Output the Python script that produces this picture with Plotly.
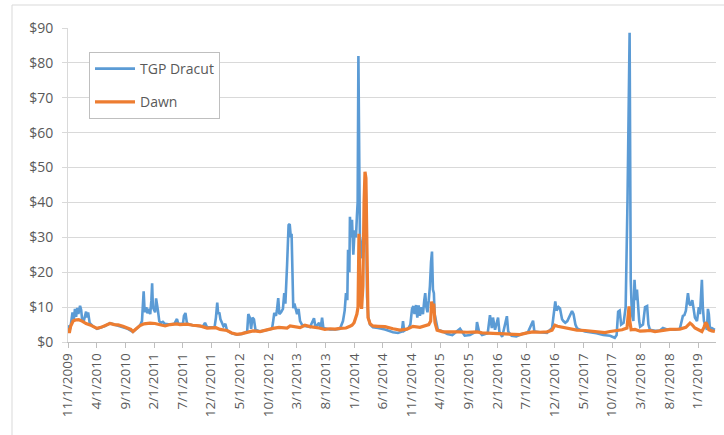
import pandas as pd
import plotly.graph_objects as go

# ---------------- data ----------------
dracut_dates = [
    "2009-11-01", "2009-11-08", "2009-11-15", "2009-11-25", "2009-12-02", "2009-12-08", "2009-12-14",
    "2009-12-20", "2009-12-26", "2010-01-04", "2010-01-10", "2010-01-15", "2010-01-24", "2010-02-01",
    "2010-02-05", "2010-02-10", "2010-02-16", "2010-02-24", "2010-03-14", "2010-04-04", "2010-04-25",
    "2010-05-17", "2010-06-12", "2010-07-05", "2010-07-25", "2010-08-20", "2010-09-10", "2010-10-12",
    "2010-10-25", "2010-11-19", "2010-11-29", "2010-12-03", "2010-12-08", "2010-12-12", "2010-12-16",
    "2010-12-22", "2010-12-28", "2011-01-05", "2011-01-12", "2011-01-18", "2011-01-22", "2011-01-26",
    "2011-02-01", "2011-02-07", "2011-02-12", "2011-02-17", "2011-02-22", "2011-03-01", "2011-03-10",
    "2011-03-20", "2011-03-31", "2011-04-27", "2011-05-20", "2011-06-03", "2011-06-10", "2011-07-05",
    "2011-07-10", "2011-07-18", "2011-07-26", "2011-08-25", "2011-10-03", "2011-10-20", "2011-10-30",
    "2011-11-10", "2011-12-20", "2011-12-27", "2012-01-03", "2012-01-08", "2012-01-14", "2012-01-20",
    "2012-01-28", "2012-02-05", "2012-02-15", "2012-02-24", "2012-03-20", "2012-04-17", "2012-05-13",
    "2012-06-10", "2012-06-16", "2012-06-24", "2012-07-01", "2012-07-08", "2012-07-16", "2012-07-24",
    "2012-08-17", "2012-09-23", "2012-10-20", "2012-10-25", "2012-11-01", "2012-11-10", "2012-11-15",
    "2012-11-22", "2012-11-28", "2012-12-07", "2012-12-17", "2012-12-24", "2012-12-30", "2013-01-08",
    "2013-01-16", "2013-01-22", "2013-01-28", "2013-02-01", "2013-02-06", "2013-02-10", "2013-02-16",
    "2013-02-22", "2013-03-02", "2013-03-10", "2013-03-18", "2013-03-28", "2013-04-13", "2013-05-10",
    "2013-05-31", "2013-06-08", "2013-06-27", "2013-07-05", "2013-07-13", "2013-07-20", "2013-08-24",
    "2013-09-20", "2013-10-16", "2013-11-01", "2013-11-10", "2013-11-17", "2013-11-24", "2013-11-28",
    "2013-12-05", "2013-12-08", "2013-12-14", "2013-12-19", "2013-12-26", "2014-01-02", "2014-01-09",
    "2014-01-14", "2014-01-18", "2014-01-22", "2014-01-26", "2014-01-30", "2014-02-04", "2014-02-10",
    "2014-02-16", "2014-02-22", "2014-02-28", "2014-03-04", "2014-03-09", "2014-03-16", "2014-03-25",
    "2014-04-09", "2014-05-06", "2014-06-12", "2014-07-25", "2014-08-20", "2014-09-10", "2014-09-16",
    "2014-09-22", "2014-10-15", "2014-10-25", "2014-11-03", "2014-11-10", "2014-11-16", "2014-11-24",
    "2014-12-01", "2014-12-08", "2014-12-15", "2014-12-22", "2014-12-31", "2015-01-07", "2015-01-12",
    "2015-01-18", "2015-01-24", "2015-01-31", "2015-02-06", "2015-02-12", "2015-02-17", "2015-02-22",
    "2015-02-27", "2015-03-03", "2015-03-10", "2015-03-20", "2015-04-16", "2015-05-10", "2015-06-05",
    "2015-07-05", "2015-07-16", "2015-08-10", "2015-09-07", "2015-10-10", "2015-10-14", "2015-10-25",
    "2015-11-10", "2015-12-10", "2015-12-22", "2016-01-01", "2016-01-07", "2016-01-18", "2016-02-03",
    "2016-02-10", "2016-02-25", "2016-03-21", "2016-03-28", "2016-04-15", "2016-05-10", "2016-06-05",
    "2016-07-10", "2016-08-07", "2016-08-14", "2016-09-13", "2016-10-20", "2016-11-16", "2016-11-28",
    "2016-12-03", "2016-12-10", "2016-12-20", "2016-12-28", "2017-01-08", "2017-01-15", "2017-01-25",
    "2017-02-05", "2017-03-02", "2017-03-10", "2017-03-20", "2017-03-28", "2017-04-13", "2017-05-10",
    "2017-06-06", "2017-07-10", "2017-08-15", "2017-09-20", "2017-10-15", "2017-10-25", "2017-11-02",
    "2017-11-10", "2017-11-18", "2017-12-01", "2017-12-12", "2017-12-22", "2018-01-02", "2018-01-08",
    "2018-01-14", "2018-01-22", "2018-01-28", "2018-02-03", "2018-02-10", "2018-02-15", "2018-02-22",
    "2018-02-27", "2018-03-14", "2018-03-25", "2018-04-05", "2018-04-12", "2018-04-20", "2018-05-17",
    "2018-06-12", "2018-06-28", "2018-07-20", "2018-08-31", "2018-09-26", "2018-10-12", "2018-10-20",
    "2018-10-28", "2018-11-08", "2018-11-15", "2018-11-22", "2018-12-01", "2018-12-15", "2018-12-26",
    "2019-01-05", "2019-01-11", "2019-01-18", "2019-01-21", "2019-01-26", "2019-02-01", "2019-02-08",
    "2019-02-17", "2019-02-22", "2019-02-27", "2019-03-05", "2019-03-15", "2019-03-31",
]
dracut_prices = [
    4.8, 3.0, 4.6, 8.5, 6.5, 9.5, 7.2,
    9.8, 8.0, 10.4, 9.2, 6.5, 6.0, 7.5,
    8.7, 7.0, 8.5, 5.5, 4.5, 3.8, 4.1,
    4.6, 5.4, 5.0, 4.8, 4.4, 3.9, 2.9,
    3.5, 4.8, 6.0, 9.0, 14.5, 10.0, 8.5,
    10.0, 8.2, 9.5, 8.0, 12.0, 16.8, 10.0,
    9.0, 8.5, 12.5, 10.0, 9.0, 6.0, 5.5,
    5.8, 5.2, 5.0, 5.2, 6.6, 5.2, 5.3,
    7.5, 8.3, 5.3, 4.8, 4.5, 4.6, 5.5,
    4.2, 4.3, 7.0, 11.3, 8.0, 8.5, 6.5,
    5.5, 4.5, 5.2, 3.3, 2.5, 2.1, 2.3,
    3.0, 8.0, 7.0, 3.8, 7.0, 6.5, 3.5,
    3.0, 3.5, 3.8, 5.5, 8.3, 7.5, 9.0,
    12.6, 8.0, 8.5, 9.5, 14.0, 11.0, 22.0,
    33.5, 33.8, 30.0, 31.0, 20.0, 9.7, 11.0,
    10.0, 8.0, 9.5, 6.0, 5.0, 4.6, 4.3,
    6.8, 4.2, 5.5, 3.8, 7.0, 4.0, 3.6,
    3.6, 3.8, 6.0, 9.0, 14.0, 12.0, 26.4,
    20.0, 35.9, 30.0, 35.0, 25.0, 32.0, 30.0,
    36.0, 40.0, 82.0, 45.0, 30.0, 27.0, 24.0,
    30.0, 28.0, 47.4, 40.0, 13.0, 7.0, 5.0,
    4.2, 4.0, 3.6, 2.8, 2.6, 3.0, 6.0,
    3.2, 4.0, 5.0, 9.5, 10.3, 8.0, 10.6,
    7.0, 10.5, 7.5, 10.0, 8.0, 12.0, 14.0,
    10.0, 8.5, 12.0, 16.0, 23.0, 25.9, 15.0,
    14.0, 8.0, 6.0, 3.5, 3.0, 2.3, 2.0,
    3.2, 3.8, 1.8, 2.0, 3.0, 5.7, 3.0,
    2.0, 2.5, 7.7, 4.0, 7.0, 3.5, 7.0,
    3.0, 1.5, 7.4, 3.0, 1.8, 1.6, 2.2,
    2.7, 6.1, 3.0, 2.8, 2.6, 4.0, 10.0,
    11.6, 9.0, 10.0, 9.6, 6.5, 6.0, 5.5,
    6.0, 8.9, 8.0, 5.0, 4.0, 3.5, 3.0,
    2.8, 2.5, 2.0, 1.8, 1.2, 2.0, 8.7,
    9.0, 5.0, 5.5, 10.0, 41.2, 88.6, 17.8,
    8.0, 6.0, 17.8, 12.0, 15.0, 9.5, 6.0,
    4.4, 5.0, 10.0, 10.3, 5.0, 3.5, 3.2,
    3.3, 4.0, 3.6, 3.5, 3.8, 7.5, 7.7,
    9.0, 14.0, 11.0, 10.5, 12.0, 7.0, 6.0,
    10.0, 8.0, 15.0, 17.8, 10.0, 6.0, 5.0,
    3.5, 9.5, 8.0, 3.5, 4.0, 3.5,
]

dawn_dates = [
    "2009-11-01", "2009-11-08", "2009-11-15", "2009-11-28", "2009-12-10", "2009-12-28", "2010-01-15",
    "2010-02-05", "2010-02-26", "2010-03-20", "2010-04-04", "2010-04-25", "2010-05-17", "2010-06-12",
    "2010-07-05", "2010-07-25", "2010-08-20", "2010-09-10", "2010-10-01", "2010-10-12", "2010-10-25",
    "2010-11-19", "2010-12-10", "2011-01-11", "2011-02-06", "2011-03-05", "2011-04-01", "2011-04-27",
    "2011-06-03", "2011-06-19", "2011-07-26", "2011-08-25", "2011-10-03", "2011-11-10", "2011-12-27",
    "2012-01-18", "2012-02-24", "2012-03-20", "2012-04-17", "2012-05-13", "2012-06-14", "2012-07-11",
    "2012-08-17", "2012-09-23", "2012-10-25", "2012-11-26", "2013-01-08", "2013-01-24", "2013-02-19",
    "2013-03-18", "2013-04-13", "2013-05-10", "2013-06-27", "2013-07-28", "2013-08-24", "2013-09-20",
    "2013-10-16", "2013-11-17", "2013-12-08", "2013-12-19", "2013-12-30", "2014-01-09", "2014-01-14",
    "2014-01-20", "2014-01-25", "2014-01-28", "2014-02-02", "2014-02-08", "2014-02-15", "2014-02-21",
    "2014-02-26", "2014-03-03", "2014-03-07", "2014-03-10", "2014-03-14", "2014-03-25", "2014-04-09",
    "2014-05-06", "2014-06-12", "2014-07-25", "2014-08-31", "2014-10-07", "2014-11-08", "2014-12-15",
    "2015-01-11", "2015-01-31", "2015-02-10", "2015-02-15", "2015-02-20", "2015-02-26", "2015-03-05",
    "2015-03-16", "2015-04-16", "2015-05-24", "2015-07-05", "2015-08-22", "2015-10-14", "2015-11-10",
    "2015-12-22", "2016-02-03", "2016-03-21", "2016-05-03", "2016-05-29", "2016-07-05", "2016-08-07",
    "2016-09-13", "2016-10-20", "2016-11-16", "2016-12-01", "2016-12-15", "2017-01-13", "2017-02-03",
    "2017-03-02", "2017-03-28", "2017-05-10", "2017-06-21", "2017-07-29", "2017-08-24", "2017-09-20",
    "2017-10-27", "2017-11-23", "2017-12-19", "2017-12-27", "2017-12-30", "2018-01-03", "2018-01-10",
    "2018-01-31", "2018-02-27", "2018-03-25", "2018-04-20", "2018-05-17", "2018-06-28", "2018-08-04",
    "2018-09-26", "2018-10-28", "2018-11-19", "2018-11-29", "2018-12-15", "2019-01-05", "2019-01-21",
    "2019-02-01", "2019-02-10", "2019-02-17", "2019-02-27", "2019-03-15", "2019-03-31",
]
dawn_prices = [
    4.0, 2.6, 4.5, 6.0, 6.3, 6.4, 6.0,
    5.3, 4.9, 4.3, 3.9, 4.2, 4.7, 5.3,
    5.0, 4.9, 4.5, 4.0, 3.6, 3.0, 3.6,
    4.7, 5.2, 5.4, 5.3, 4.9, 4.6, 5.0,
    5.2, 5.0, 5.1, 4.8, 4.6, 4.0, 4.1,
    3.6, 3.3, 2.6, 2.2, 2.4, 2.8, 3.2,
    3.0, 3.6, 3.9, 4.2, 4.0, 4.6, 4.3,
    4.1, 4.8, 4.4, 4.0, 3.6, 3.8, 3.7,
    3.9, 4.0, 4.5, 4.8, 5.5, 7.0, 8.0,
    10.0, 31.0, 22.0, 12.0, 9.5, 16.0, 40.0,
    48.8, 47.0, 30.0, 12.0, 7.0, 5.2, 4.6,
    4.5, 4.4, 3.8, 3.4, 3.7, 4.5, 4.2,
    4.7, 5.0, 6.0, 11.6, 9.0, 11.0, 5.5,
    3.4, 2.9, 2.8, 2.9, 2.8, 2.9, 2.6,
    2.5, 2.4, 2.1, 2.0, 2.1, 2.6, 2.9,
    2.8, 2.9, 3.4, 4.8, 4.5, 4.2, 3.8,
    3.6, 3.4, 3.3, 3.0, 2.8, 2.7, 3.0,
    3.2, 3.5, 4.0, 8.0, 10.2, 6.0, 3.5,
    3.6, 3.1, 3.2, 3.3, 3.0, 3.3, 3.6,
    3.7, 4.2, 5.4, 5.0, 4.0, 3.5, 3.0,
    4.2, 5.6, 5.0, 3.5, 3.2, 3.0,
]

tick_labels = [
    "11/1/2009", "4/1/2010", "9/1/2010", "2/1/2011", "7/1/2011", "12/1/2011", "5/1/2012",
    "10/1/2012", "3/1/2013", "8/1/2013", "1/1/2014", "6/1/2014", "11/1/2014", "4/1/2015",
    "9/1/2015", "2/1/2016", "7/1/2016", "12/1/2016", "5/1/2017", "10/1/2017", "3/1/2018",
    "8/1/2018", "1/1/2019",
]
y_ticks = [0, 10, 20, 30, 40, 50, 60, 70, 80, 90]

# ---------------- figure ----------------
tick_dates = pd.to_datetime(tick_labels, format="%m/%d/%Y")

fig = go.Figure()
fig.add_trace(go.Scatter(
    x=pd.to_datetime(dracut_dates), y=dracut_prices, mode="lines", name="TGP Dracut",
    line=dict(color="#5B9BD5", width=2.6), legendgroup="a",
))
fig.add_trace(go.Scatter(
    x=pd.to_datetime(dawn_dates), y=dawn_prices, mode="lines", name="Dawn",
    line=dict(color="#ED7D31", width=3.2), legendgroup="b",
))

grey_text = "#595959"
font_family = "Open Sans, DejaVu Sans, sans-serif"

# plot area in pixels: x 68..716, y 28..342
L, R, T, B = 68, 8, 28, 93
W, H = 724, 435
pw, ph = W - L - R, H - T - B

def px(xp):
    return (xp - L) / pw

def py(yp):
    return (H - B - yp) / ph

fig.update_layout(
    width=W, height=H,
    margin=dict(l=L, r=R, t=T, b=B, autoexpand=False),
    paper_bgcolor="white", plot_bgcolor="white",
    font=dict(family=font_family, color=grey_text, size=13),
    showlegend=True,
    legend=dict(
        x=px(89), y=py(52), xanchor="left", yanchor="top",
        bordercolor="#BFBFBF", borderwidth=1, bgcolor="white",
        font=dict(size=14, color=grey_text, family=font_family),
        traceorder="grouped", tracegroupgap=12,
        itemwidth=40,
    ),
    xaxis=dict(
        range=["2009-11-01", "2019-04-06"],
        tickmode="array", tickvals=tick_dates, ticktext=tick_labels,
        tickangle=-90, tickfont=dict(size=13.5, color=grey_text),
        showgrid=False, showline=True, linecolor="#BFBFBF", linewidth=1,
        ticks="outside", ticklen=5, tickcolor="#BFBFBF",
        zeroline=False,
    ),
    yaxis=dict(
        range=[0, 90], tickmode="array", tickvals=y_ticks,
        ticktext=[f"${v}" for v in y_ticks],
        tickfont=dict(size=14, color=grey_text),
        showgrid=True, gridcolor="#D9D9D9", gridwidth=1,
        showline=True, linecolor="#D9D9D9", linewidth=1,
        ticks="outside", ticklen=5, tickcolor="#D9D9D9",
        zeroline=False, ticklabelstandoff=6,
    ),
    shapes=[
        dict(type="rect", xref="paper", yref="paper",
             x0=px(12), x1=px(730), y0=py(445), y1=py(5),
             line=dict(color="#D9D9D9", width=1), fillcolor="rgba(0,0,0,0)", layer="below"),
    ],
)

fig.write_html(
    "out.html",
    config={"displayModeBar": False},
    post_script="document.body.style.margin='0';document.body.style.overflow='hidden';",
)
